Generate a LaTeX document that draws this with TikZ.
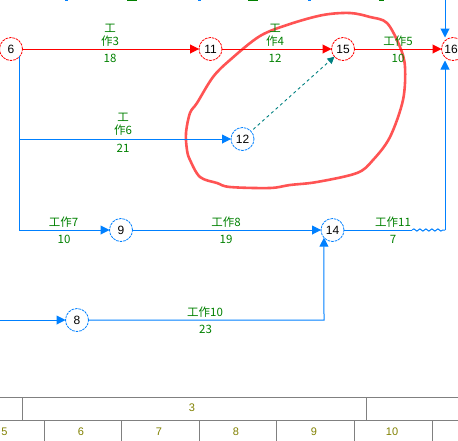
\documentclass[tikz,border=0pt]{standalone}
\usepackage{fontspec}
\setmainfont{Liberation Sans}
\newfontfamily\cjk{Noto Sans CJK SC}
\usetikzlibrary{arrows.meta,decorations.pathmorphing}
\definecolor{netblue}{RGB}{0,128,255}
\definecolor{netgreen}{RGB}{0,128,0}
\definecolor{netred}{RGB}{255,0,0}
\definecolor{netteal}{RGB}{0,128,128}
\definecolor{netolive}{RGB}{128,128,0}
\definecolor{netgray}{RGB}{128,128,128}
\definecolor{markred}{RGB}{255,40,40}
\begin{document}
\begin{tikzpicture}[x=1pt,y=-1pt,
  evt/.style={circle,draw,dash pattern=on 2.6pt off 0.9pt,line width=0.8pt,minimum size=23pt,inner sep=0pt,outer sep=0pt,fill=white,font=\fontsize{12}{12}\selectfont},
  redevt/.style={evt,draw=netred},
  blueevt/.style={evt,draw=netblue},
  lbl/.style={text=netgreen,font=\cjk\fontsize{11.5}{13}\selectfont,inner sep=0pt,align=center},
  tbl/.style={text=netolive,font=\fontsize{11}{12}\selectfont,inner sep=0pt},
  redact/.style={draw=netred,line width=1pt,-{Triangle[length=9pt,width=9pt]}},
  blueline/.style={draw=netblue,line width=1pt},
  blueact/.style={blueline,-{Triangle[length=9pt,width=9pt]}},
  tealact/.style={draw=netteal,line width=0.9pt,dash pattern=on 3pt off 3pt,-{Triangle[length=7pt,width=7pt]}},
  gridline/.style={draw=netgray,line width=1pt},
  wavy/.style={blueline,decorate,decoration={snake,amplitude=1.1pt,segment length=6pt}}
]
\useasboundingbox (0,0) rectangle (458,440);
\clip (0,0) rectangle (458,440);

% fragments at the top edge (bottoms of items above the view)
\fill[netblue] (64.5,-1) rectangle (67.5,1.2);
\fill[netblue] (197.5,-1) rectangle (200.5,1.2);
\fill[netblue] (307.5,-1) rectangle (310.5,1.2);
\fill[netgreen] (127,-1) rectangle (137,1.3);
\fill[netgreen] (248,-1) rectangle (258,1.3);
\fill[netgreen] (379,-1) rectangle (384,1.3);

% hand-drawn mark
\draw[markred,opacity=0.8,line width=2.6pt,line join=round]
  plot[smooth cycle,tension=0.55] coordinates {
  (350,13) (323,15) (290,24) (260,36) (230,60) (213,77) (197,103) (190,113)
  (186,133) (187,150) (190,160) (200,177) (217,183) (230,187) (270,188)
  (290,185) (317,182) (357,173) (373,160) (390,137) (403,100) (405,67)
  (400,47) (387,23) (370,17)};

% events
\node[redevt] (n6) at (11,49) {6};
\node[redevt] (n11) at (210.5,49) {11};
\node[redevt] (n15) at (343,49) {15};
\node[redevt] (n16) at (453,49) {\hspace*{-4pt}\makebox[0pt][c]{16}};
\node[blueevt] (n12) at (242.5,139) {12};
\node[blueevt] (n9) at (121,230) {9};
\node[blueevt] (n14) at (332.5,230) {14};
\node[blueevt] (n8) at (77,320) {8};

\coordinate (in8) at (0,320);
\coordinate (k14) at (324,320);
\coordinate (w1) at (412,230);
\coordinate (w2) at (445,230);
\coordinate (t16) at (445,-1);

% red critical path
\draw[redact] (n6) -- (n11);
\draw[redact] (n11) -- (n15);
\draw[redact] (n15) -- (n16);

% blue activities
\draw[blueact] (n6.-40) |- (n9);
\draw[blueact] (n6.-40 |- n12) -- (n12);
\draw[blueact] (n9) -- (n14);
\draw[blueact] (in8) -- (n8);
\draw[blueact] (n8) -- (k14) -- (n14.-138);
\draw[blueline] (n14) -- (w1);
\draw[wavy] (w1) -- (w2);
\draw[blueact] (w2) -- (w2 |- n16.south);
\draw[blueact] (t16) -- (t16 |- n16.north);

% dummy activity
\draw[tealact,shorten <=3pt] (n12) -- (n15);

% labels
\node[lbl] (l3) at (110,35) {工\\作3};
\node[lbl] (d3) at (110,58) {18};
\node[lbl] (l4) at (275,35) {工\\作4};
\node[lbl] (d4) at (275,58) {12};
\node[lbl] (l5) at (398,41) {工作5};
\node[lbl] (d5) at (398,58) {10};
\node[lbl] (l6) at (123,124.5) {工\\作6};
\node[lbl] (d6) at (123,148) {21};
\node[lbl] (l7) at (63.5,222) {工作7};
\node[lbl] (d7) at (64,239) {10};
\node[lbl] (l8) at (226,222) {工作8};
\node[lbl] (d8) at (226,239) {19};
\node[lbl] (l10) at (205,312) {工作10};
\node[lbl] (d10) at (205.5,329) {23};
\node[lbl] (l11) at (393,222) {工作11};
\node[lbl] (d11) at (393,239) {7};

% time scale table
\draw[gridline] (0,397) -- (458,397);
\draw[gridline] (0,420) -- (458,420);
\draw[gridline] (22,397) -- (22,420);
\draw[gridline] (366,397) -- (366,420);
\foreach \x in {44,121,199,276,354,432} \draw[gridline] (\x,420) -- (\x,441);
\node[tbl] (t3) at (192,408) {3};
\node[tbl] (t5) at (4.5,432) {5};
\node[tbl] (t6) at (81,432) {6};
\node[tbl] (t7) at (159,432) {7};
\node[tbl] (t8) at (236,432) {8};
\node[tbl] (t9) at (314,432) {9};
\node[tbl] (t10) at (392,432) {10};
\end{tikzpicture}
\end{document}
